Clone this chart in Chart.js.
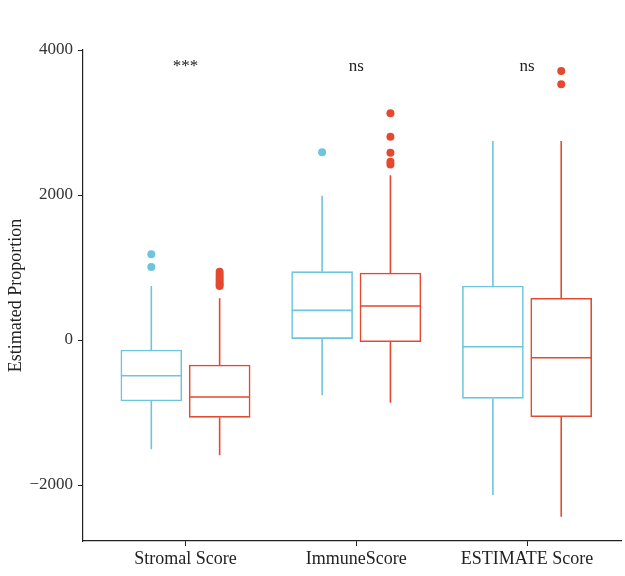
<!DOCTYPE html>
<html>
<head>
<meta charset="utf-8">
<script src="https://cdn.jsdelivr.net/npm/chart.js@4/dist/chart.umd.min.js"></script>
<style>
  html, body { margin: 0; padding: 0; background: #fff; overflow: hidden; }
  #wrap { width: 625px; height: 576px; }
</style>
</head>
<body>
<div id="wrap"><canvas id="box"></canvas></div>
<script>
// categories along x
const categories = ['Stromal Score', 'ImmuneScore', 'ESTIMATE Score'];
// box stats per category: [lower whisker, Q1, median, Q3, upper whisker]
const blueStats = [
  [-1508, -841, -492, -138, 745],
  [-763, 19, 409, 943, 1991],
  [-2138, -805, -92, 745, 2745]
];
const redStats = [
  [-1591, -1067, -786, -345, 575],
  [-865, -23, 469, 924, 2271],
  [-2437, -1057, -244, 575, 2745]
];
// outliers per category
const blueOutliers = [[1182, 1007], [2589], []];
const redOutliers = [[940, 905, 870, 835, 800, 770, 745], [3127, 2805, 2584, 2460, 2420], [3710, 3527]];
// significance labels
const signif = ['***', 'ns', 'ns'];
const yTicks = [-2000, 0, 2000, 4000];

const BLUE = '#6DC5DD';
const RED = '#E4492F';
const SERIF = "'Liberation Serif', 'DejaVu Serif', serif";

function groupSets(stats, outliers, color, shift) {
  const xs = stats.map((s, i) => i + 1 + shift);
  const half = 0.178;
  return [
    {
      type: 'bar',
      data: stats.map((s, i) => ({ x: xs[i], y: [s[1], s[3]] })),
      backgroundColor: '#ffffff',
      borderColor: color,
      borderWidth: 1.6,
      borderSkipped: false,
      barThickness: 61,
      grouped: false,
      order: 2
    },
    {
      type: 'line',
      data: stats.flatMap((s, i) => [
        { x: xs[i], y: s[3] }, { x: xs[i], y: s[4] }, { x: xs[i], y: null },
        { x: xs[i], y: s[1] }, { x: xs[i], y: s[0] }, { x: xs[i], y: null }
      ]),
      borderColor: color,
      borderWidth: 1.6,
      pointRadius: 0,
      spanGaps: false,
      order: 1
    },
    {
      type: 'line',
      data: stats.flatMap((s, i) => [
        { x: xs[i] - half, y: s[2] }, { x: xs[i] + half, y: s[2] }, { x: xs[i], y: null }
      ]),
      borderColor: color,
      borderWidth: 1.6,
      pointRadius: 0,
      spanGaps: false,
      order: 0
    },
    {
      type: 'scatter',
      data: outliers.flatMap((arr, i) => arr.map(v => ({ x: xs[i], y: v }))),
      backgroundColor: color,
      borderWidth: 0,
      pointRadius: 4,
      order: 0
    }
  ];
}

const signifPlugin = {
  id: 'signif',
  afterDatasetsDraw(chart) {
    const { ctx, scales: { x, y } } = chart;
    ctx.save();
    ctx.fillStyle = '#222';
    ctx.font = '17px ' + SERIF;
    ctx.textAlign = 'center';
    ctx.textBaseline = 'alphabetic';
    signif.forEach((t, i) => {
      ctx.fillText(t, x.getPixelForValue(i + 1), y.getPixelForValue(3710));
    });
    ctx.restore();
  }
};

new Chart(document.getElementById('box'), {
  type: 'bar',
  data: {
    datasets: [
      ...groupSets(blueStats, blueOutliers, BLUE, -0.2),
      ...groupSets(redStats, redOutliers, RED, 0.2)
    ]
  },
  options: {
    responsive: true,
    maintainAspectRatio: false,
    animation: false,
    layout: { padding: { top: 50, right: 0, bottom: 0, left: 0 } },
    plugins: {
      legend: { display: false },
      tooltip: { enabled: false }
    },
    scales: {
      x: {
        type: 'linear',
        offset: false,
        min: 0.4,
        max: 3.55,
        grid: { display: true, drawOnChartArea: false, drawTicks: true, tickLength: 5, color: '#222', offset: false },
        border: { display: true, color: '#222', width: 1.2 },
        afterBuildTicks: (scale) => {
          scale.ticks = [1, 2, 3].map(v => ({ value: v }));
        },
        afterFit: (scale) => { scale.height = 35; },
        ticks: {
          autoSkip: false,
          maxRotation: 0,
          padding: 2,
          color: '#222',
          font: { family: SERIF, size: 18 },
          callback: (v, i) => categories[i]
        }
      },
      y: {
        min: -2772,
        max: 4000,
        grid: { display: true, drawOnChartArea: false, drawTicks: true, tickLength: 5, color: '#222' },
        border: { display: true, color: '#222', width: 1.2 },
        afterBuildTicks: (scale) => {
          scale.ticks = yTicks.map(v => ({ value: v }));
        },
        afterFit: (scale) => { scale.width = 83; },
        title: {
          display: true,
          text: 'Estimated Proportion',
          color: '#222',
          font: { family: SERIF, size: 18 },
          padding: { top: 5, bottom: 0 }
        },
        ticks: {
          padding: 5,
          color: '#333',
          font: { family: SERIF, size: 17 },
          callback: (v) => (v < 0 ? '\u2212' + Math.abs(v) : String(v))
        }
      }
    }
  },
  plugins: [signifPlugin]
});
</script>
</body>
</html>
